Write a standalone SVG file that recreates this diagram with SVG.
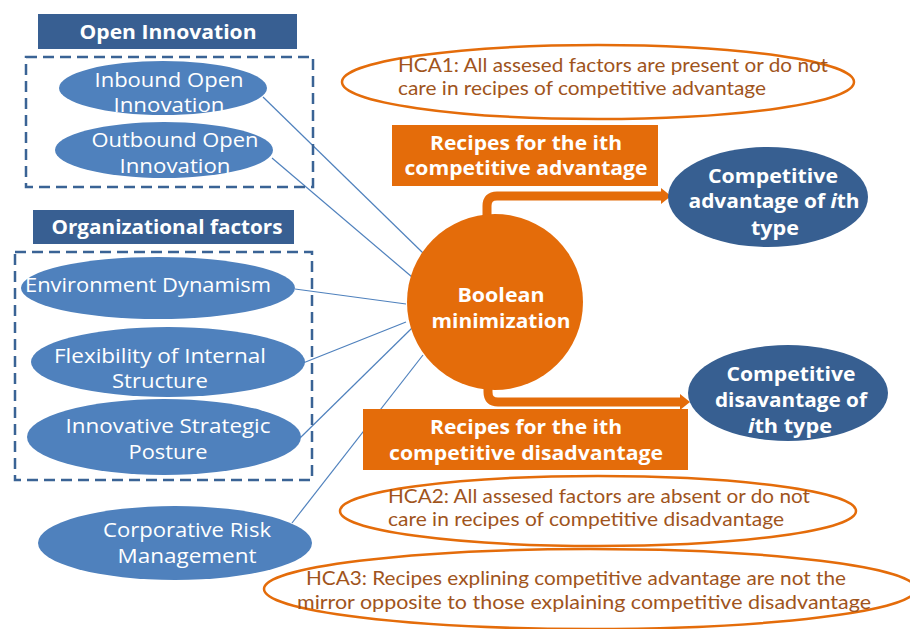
<svg xmlns="http://www.w3.org/2000/svg" width="910" height="629" viewBox="0 0 910 629">
<defs>
<style>
.title{fill:#385f92}
.tt{font-family:"Open Sans","Liberation Sans",sans-serif;font-weight:bold;font-size:20px;fill:#fff;text-anchor:middle}
.dash{fill:none;stroke:#3a6395;stroke-width:2.5;stroke-dasharray:11 6}
.le{fill:#4f81bd}
.lt{font-family:"Open Sans","Liberation Sans",sans-serif;font-size:20px;fill:#fff;text-anchor:middle}
.de{fill:#375f91}
.bt{font-family:"Open Sans","Liberation Sans",sans-serif;font-weight:bold;font-size:20px;fill:#fff;text-anchor:middle}
.bs{font-size:19px}
.ob{fill:#e46c0a}
.hca{fill:#fff;stroke:#e46c0a;stroke-width:2.5}
.ht{font-family:Lato,"Open Sans","Liberation Sans",sans-serif;font-size:19px;fill:#a0541c}
.conn{stroke:#4f81bd;stroke-width:1.2;fill:none}
.arr{stroke:#e46c0a;stroke-width:9;fill:none}
</style>
<marker id="ah" viewBox="0 0 10 16" refX="0" refY="8" markerWidth="10" markerHeight="16" markerUnits="userSpaceOnUse" orient="auto">
<path d="M0,0 L10,8 L0,16 z" fill="#e46c0a"/>
</marker>
</defs>
<rect width="910" height="629" fill="#fff"/>

<g id="connectors">
<line class="conn" x1="263" y1="97" x2="423" y2="253"/>
<line class="conn" x1="272" y1="158" x2="412" y2="277"/>
<line class="conn" x1="295" y1="289" x2="406" y2="304"/>
<line class="conn" x1="303" y1="363" x2="406" y2="322"/>
<line class="conn" x1="300" y1="438" x2="412" y2="328"/>
<line class="conn" x1="292" y1="523" x2="423" y2="355"/>
<path class="arr" d="M487,218 V206 Q487,196 497,196 H661" marker-end="url(#ah)"/>
<path class="arr" d="M488,386 V392 Q488,402 498,402 H680" marker-end="url(#ah)"/>
</g>

<g id="open-innovation-title">
<rect class="title" x="38" y="14" width="259" height="35"/>
<text class="tt" x="168" y="39" textLength="177" lengthAdjust="spacingAndGlyphs">Open Innovation</text>
</g>
<g id="open-innovation-group">
<rect class="dash" x="26" y="57" width="287" height="130"/>
</g>
<g id="inbound">
<ellipse class="le" cx="163" cy="88" rx="104" ry="27"/>
<text class="lt" x="169" y="87" textLength="149" lengthAdjust="spacingAndGlyphs">Inbound Open</text>
<text class="lt" x="169" y="112" textLength="111" lengthAdjust="spacingAndGlyphs">Innovation</text>
</g>
<g id="outbound">
<ellipse class="le" cx="164" cy="150" rx="109" ry="28"/>
<text class="lt" x="175" y="147" textLength="167" lengthAdjust="spacingAndGlyphs">Outbound Open</text>
<text class="lt" x="175" y="173" textLength="111" lengthAdjust="spacingAndGlyphs">Innovation</text>
</g>

<g id="org-title">
<rect class="title" x="33" y="210" width="261" height="34"/>
<text class="tt" x="167" y="234" textLength="231" lengthAdjust="spacingAndGlyphs">Organizational factors</text>
</g>
<g id="org-group">
<rect class="dash" x="15" y="252" width="297" height="228"/>
</g>
<g id="environment">
<ellipse class="le" cx="158" cy="288" rx="137" ry="31"/>
<text class="lt" x="148" y="292" textLength="246" lengthAdjust="spacingAndGlyphs">Environment Dynamism</text>
</g>
<g id="flexibility">
<ellipse class="le" cx="168" cy="362" rx="137" ry="35"/>
<text class="lt" x="160" y="363" textLength="212" lengthAdjust="spacingAndGlyphs">Flexibility of Internal</text>
<text class="lt" x="160" y="388" textLength="96" lengthAdjust="spacingAndGlyphs">Structure</text>
</g>
<g id="innovative">
<ellipse class="le" cx="164" cy="437" rx="137" ry="38"/>
<text class="lt" x="168" y="433" textLength="205" lengthAdjust="spacingAndGlyphs">Innovative Strategic</text>
<text class="lt" x="168" y="459" textLength="79" lengthAdjust="spacingAndGlyphs">Posture</text>
</g>
<g id="corporative">
<ellipse class="le" cx="175" cy="543" rx="137" ry="37"/>
<text class="lt" x="187" y="537" textLength="168" lengthAdjust="spacingAndGlyphs">Corporative Risk</text>
<text class="lt" x="187" y="563" textLength="139" lengthAdjust="spacingAndGlyphs">Management</text>
</g>

<g id="boolean">
<circle class="ob" cx="495" cy="302" r="88"/>
<text class="bt" x="501" y="302" textLength="87" lengthAdjust="spacingAndGlyphs">Boolean</text>
<text class="bt" x="501" y="328" textLength="139" lengthAdjust="spacingAndGlyphs">minimization</text>
</g>

<g id="recipes-advantage">
<rect class="ob" x="392" y="125" width="266" height="61"/>
<text class="bt" x="526" y="150" textLength="192" lengthAdjust="spacingAndGlyphs">Recipes for the ith</text>
<text class="bt" x="526" y="175" textLength="243" lengthAdjust="spacingAndGlyphs">competitive advantage</text>
</g>
<g id="recipes-disadvantage">
<rect class="ob" x="363" y="409" width="325" height="61"/>
<text class="bt" x="526" y="434" textLength="192" lengthAdjust="spacingAndGlyphs">Recipes for the ith</text>
<text class="bt" x="526" y="460" textLength="274" lengthAdjust="spacingAndGlyphs">competitive disadvantage</text>
</g>

<g id="advantage-type">
<ellipse class="de" cx="768" cy="197" rx="100" ry="50"/>
<text class="bt" x="773" y="183" textLength="130" lengthAdjust="spacingAndGlyphs">Competitive</text>
<text class="bt bs" x="774" y="208" textLength="171" lengthAdjust="spacingAndGlyphs">advantage of <tspan font-style="italic">i</tspan>th</text>
<text class="bt bs" x="775" y="235" textLength="48" lengthAdjust="spacingAndGlyphs">type</text>
</g>
<g id="disadvantage-type">
<ellipse class="de" cx="788" cy="393" rx="100" ry="48"/>
<text class="bt" x="791" y="381" textLength="129" lengthAdjust="spacingAndGlyphs">Competitive</text>
<text class="bt" x="791" y="407" textLength="152" lengthAdjust="spacingAndGlyphs">disavantage of</text>
<text class="bt" x="790" y="433" textLength="84" lengthAdjust="spacingAndGlyphs"><tspan font-style="italic">i</tspan>th type</text>
</g>

<g id="hca1">
<ellipse class="hca" cx="598" cy="82" rx="256" ry="37"/>
<text class="ht" x="398" y="72" textLength="430" lengthAdjust="spacingAndGlyphs">HCA1: All assesed factors are present or do not</text>
<text class="ht" x="398" y="95" textLength="368" lengthAdjust="spacingAndGlyphs">care in recipes of competitive advantage</text>
</g>
<g id="hca2">
<ellipse class="hca" cx="598" cy="511" rx="258" ry="35"/>
<text class="ht" x="388" y="503" textLength="422" lengthAdjust="spacingAndGlyphs">HCA2: All assesed factors are absent or do not</text>
<text class="ht" x="388" y="526" textLength="396" lengthAdjust="spacingAndGlyphs">care in recipes of competitive disadvantage</text>
</g>
<g id="hca3">
<ellipse class="hca" cx="590" cy="589" rx="326" ry="40"/>
<text class="ht" x="306" y="585" textLength="540" lengthAdjust="spacingAndGlyphs">HCA3: Recipes explining competitive advantage are not the</text>
<text class="ht" x="297" y="609" textLength="574" lengthAdjust="spacingAndGlyphs">mirror opposite to those explaining competitive disadvantage</text>
</g>
</svg>
